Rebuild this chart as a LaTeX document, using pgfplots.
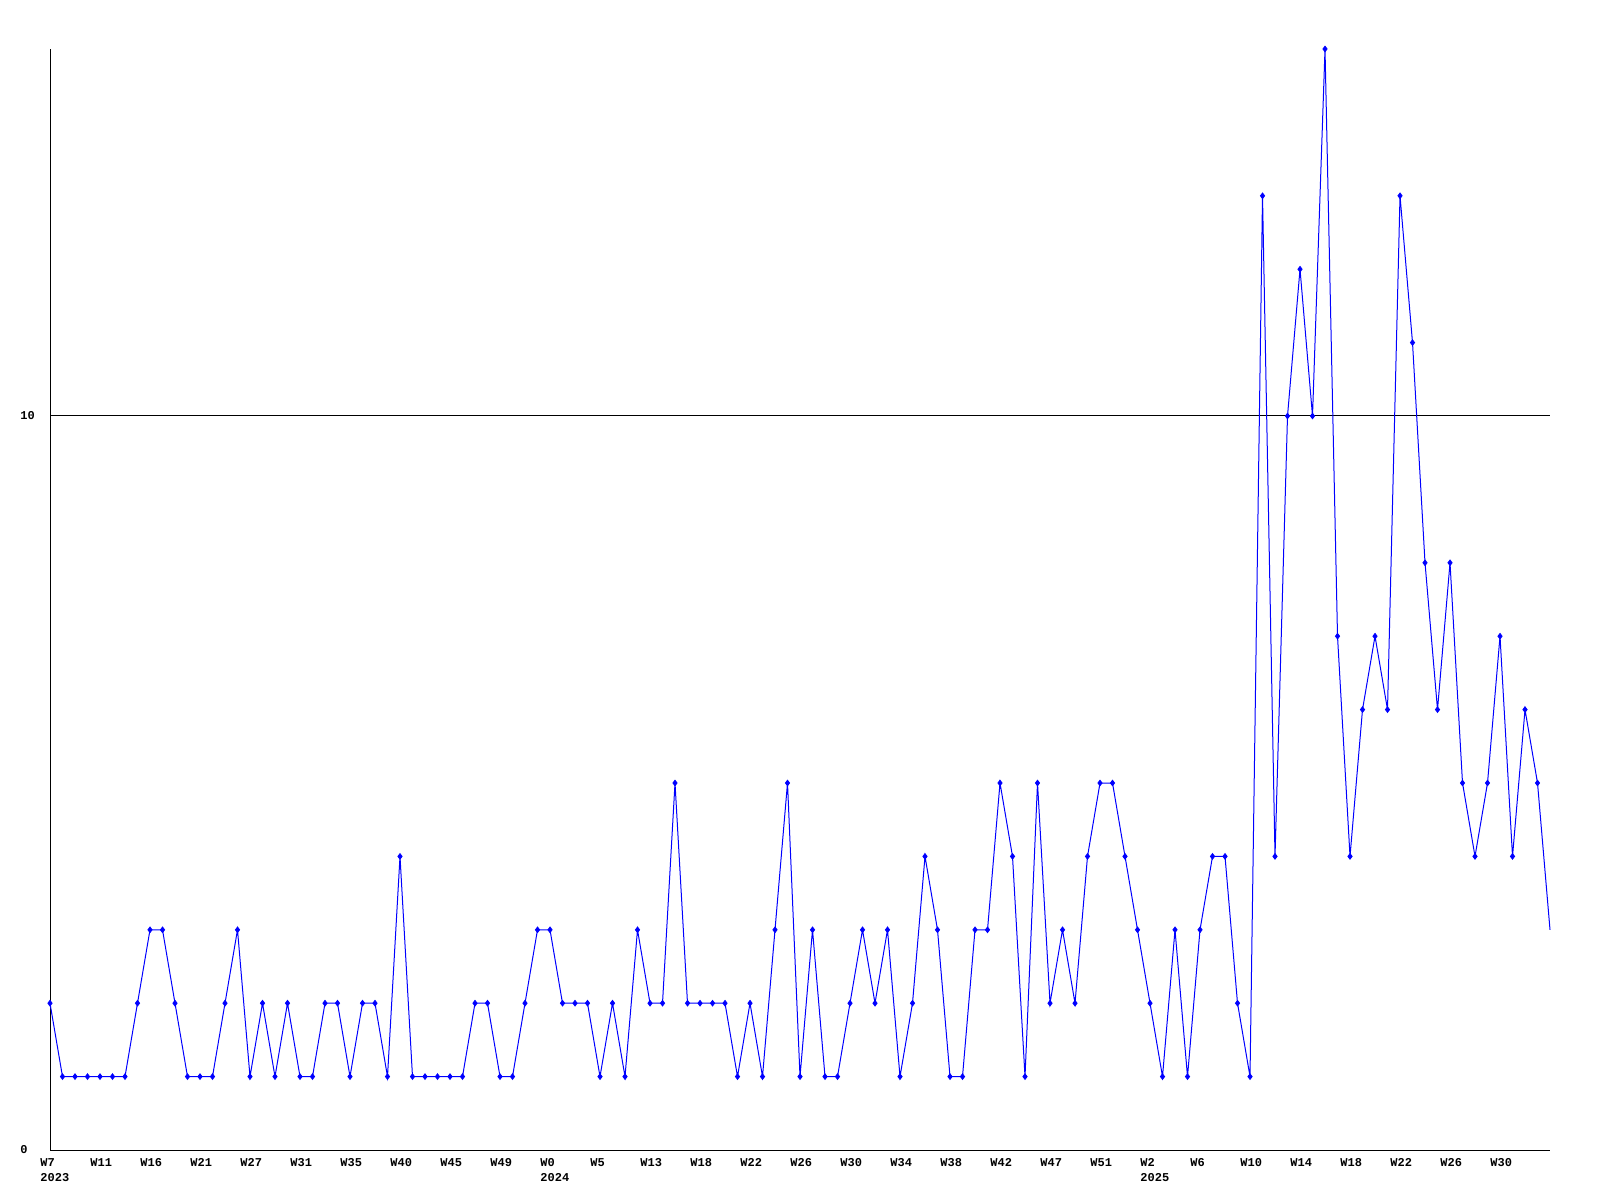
\documentclass[border=0pt]{standalone}
\usepackage{pgfplots}
\pgfplotsset{compat=1.18}
\usepackage{pgfplotstable}
\usepackage{fontspec}
\setmainfont{Liberation Mono}

\pgfplotstableread{
i v
0 2
1 1
2 1
3 1
4 1
5 1
6 1
7 2
8 3
9 3
10 2
11 1
12 1
13 1
14 2
15 3
16 1
17 2
18 1
19 2
20 1
21 1
22 2
23 2
24 1
25 2
26 2
27 1
28 4
29 1
30 1
31 1
32 1
33 1
34 2
35 2
36 1
37 1
38 2
39 3
40 3
41 2
42 2
43 2
44 1
45 2
46 1
47 3
48 2
49 2
50 5
51 2
52 2
53 2
54 2
55 1
56 2
57 1
58 3
59 5
60 1
61 3
62 1
63 1
64 2
65 3
66 2
67 3
68 1
69 2
70 4
71 3
72 1
73 1
74 3
75 3
76 5
77 4
78 1
79 5
80 2
81 3
82 2
83 4
84 5
85 5
86 4
87 3
88 2
89 1
90 3
91 1
92 3
93 4
94 4
95 2
96 1
97 13
98 4
99 10
100 12
101 10
102 15
103 7
104 4
105 6
106 7
107 6
108 13
109 11
110 8
111 6
112 8
113 5
114 4
115 5
116 7
117 4
118 6
119 5
120 3
}\data

\begin{document}
\begin{tikzpicture}
\path[use as bounding box] (0pt,0pt) rectangle (800pt,600pt);
\begin{axis}[
  at={(25pt,25pt)}, anchor=south west,
  scale only axis, width=750pt, height=550.5pt,
  xmin=0, xmax=120, ymin=0, ymax=15,
  axis x line*=bottom, axis y line*=left,
  axis line style={black, line width=0.5pt},
  major tick length=0pt,
  ytick={0,10}, yticklabels={0,10},
  ymajorgrids, grid style={black, line width=0.5pt},
  xtick={0,4,...,116},
  xticklabels={{W7\\2023},W11,W16,W21,W27,W31,W35,W40,W45,W49,{W0\\2024},W5,W13,W18,W22,W26,W30,W34,W38,W42,W47,W51,{W2\\2025},W6,W10,W14,W18,W22,W26,W30},
  /pgf/number format/assume math mode=true,
  tick label style={font=\fontsize{6}{7.5}\selectfont\bfseries, inner sep=0pt},
  xticklabel style={anchor=north west, align=left, xshift=-5pt, yshift=-4pt},
  yticklabel style={anchor=west, xshift=-15pt},
  clip=false,
]
\addplot[blue, line width=0.5pt, mark=none] table[x=i, y=v] {\data};
\addplot[blue, only marks, mark=diamond*, mark size=1.4pt, restrict x to domain=0:119] table[x=i, y=v] {\data};
\end{axis}
\end{tikzpicture}
\end{document}
